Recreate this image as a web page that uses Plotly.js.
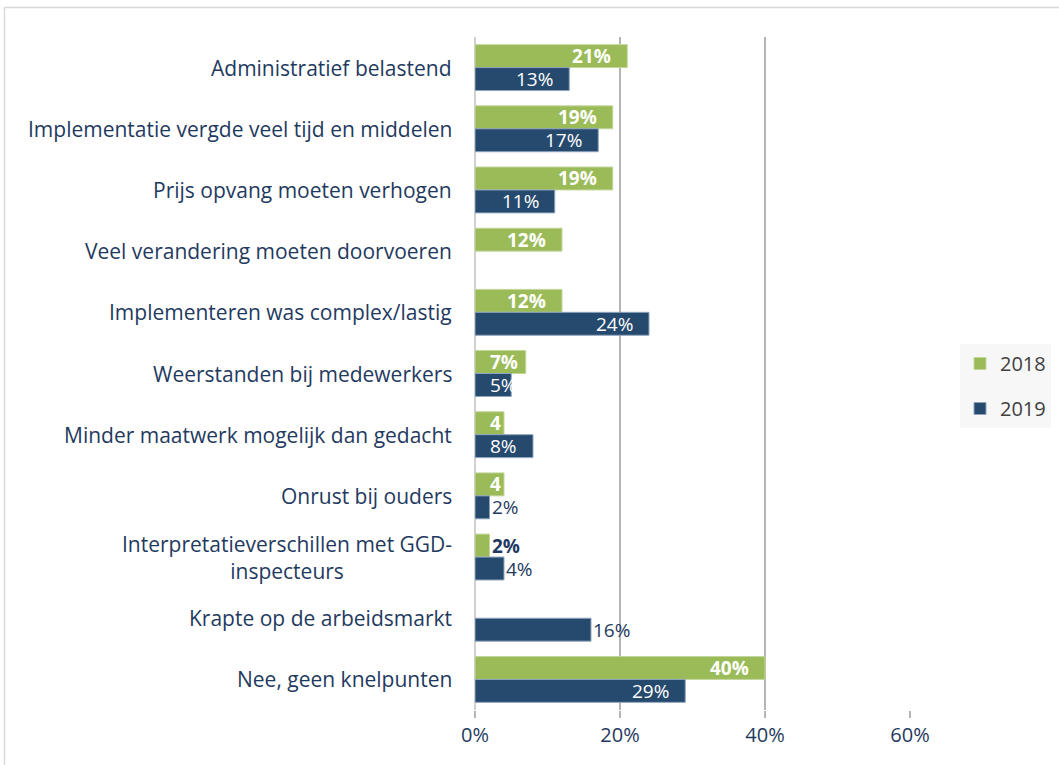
<!DOCTYPE html>
<html>
<head>
<meta charset="utf-8">
<script src="https://cdn.plot.ly/plotly-3.0.1.min.js"></script>
<style>
  html, body { margin: 0; padding: 0; background: #ffffff; }
  #chart { width: 1059px; height: 765px; }
</style>
</head>
<body>
<div id="chart"></div>
<script>
// ---- Data ----
var categories = [
  "Administratief belastend",
  "Implementatie vergde veel tijd en middelen",
  "Prijs opvang moeten verhogen",
  "Veel verandering moeten doorvoeren",
  "Implementeren was complex/lastig",
  "Weerstanden bij medewerkers",
  "Minder maatwerk mogelijk dan gedacht",
  "Onrust bij ouders",
  "Interpretatieverschillen met GGD-<br>inspecteurs",
  "Krapte op de arbeidsmarkt",
  "Nee, geen knelpunten"
];
var values2018 = [21, 19, 19, 12, 12, 7, 4, 4, 2, null, 40];
var values2019 = [13, 17, 11, null, 24, 5, 8, 2, 4, 16, 29];
var labels2018 = ["21%", "19%", "19%", "12%", "12%", "7%", "4", "4", "2%", "", "40%"];
var labels2019 = ["13%", "17%", "11%", "", "24%", "5%", "8%", "2%", "4%", "16%", "29%"];
// which labels sit outside the bar end (as in the reference)
var outside2018 = [false, false, false, false, false, false, false, false, true, false, false];
var outside2019 = [false, false, false, false, false, false, false, true, true, true, false];
var seriesNames = ["2018", "2019"];

// ---- Style ----
var GREEN = "#9bbb59", BLUE = "#264a6d";
var NAVY = "#1f3a60";
var FONT = "Open Sans, Noto Sans, sans-serif";
var L = 475, R = 149, T = 37, B = 55, W = 1059, H = 765;
var pw = W - L - R, ph = H - T - B;
function px2x(p) { return (p - L) / pw; }
function px2y(p) { return (H - B - p) / ph; }

var idx = categories.map(function (c, i) { return i; });

var traces = [
  {
    type: "bar", orientation: "h", name: seriesNames[0], legendgroup: "a",
    y: idx, x: values2018,
    marker: { color: GREEN, line: { color: "#c3d69b", width: 1 } },
    hoverinfo: "skip"
  },
  {
    type: "bar", orientation: "h", name: seriesNames[1], legendgroup: "b",
    y: idx, x: values2019,
    marker: { color: BLUE, line: { color: "#8ea4bd", width: 1 } },
    hoverinfo: "skip"
  }
];

var annotations = [];
// category labels
categories.forEach(function (c, i) {
  annotations.push({
    xref: "paper", yref: "y", x: 0, y: i, xshift: -21,
    xanchor: "right", yanchor: "middle", align: "center",
    text: c, showarrow: false,
    font: { family: FONT, size: 21, color: NAVY }
  });
});
// bar value labels
var off = 0.1875;
function addLabels(vals, labels, outside, dy, bold) {
  vals.forEach(function (v, i) {
    if (v === null || labels[i] === "") return;
    var a = {
      xref: "x", yref: "y", y: i + dy, showarrow: false, yanchor: "middle",
      borderpad: 0,
      text: bold ? "<b>" + labels[i] + "</b>" : labels[i],
      font: { family: FONT, size: 19, color: "#ffffff" }
    };
    if (outside[i]) {
      a.x = v; a.xanchor = "left"; a.xshift = 1;
      a.font.color = NAVY;
    } else if (v >= 10) {
      a.x = v; a.xanchor = "right"; a.xshift = -15;
    } else {
      a.x = 0; a.xanchor = "left"; a.xshift = 14;
    }
    annotations.push(a);
  });
}
addLabels(values2018, labels2018, outside2018, -off, true);
addLabels(values2019, labels2019, outside2019, off, false);

var layout = {
  width: W, height: H,
  margin: { l: L, r: R, t: T, b: B, pad: 0, autoexpand: false },
  paper_bgcolor: "#ffffff", plot_bgcolor: "#ffffff",
  barmode: "group", bargap: 0.25, bargroupgap: 0,
  showlegend: true,
  legend: {
    x: px2x(960), y: px2y(344), xanchor: "left", yanchor: "top",
    bgcolor: "#f7f7f7", borderwidth: 0,
    font: { family: FONT, size: 20, color: "#404040" },
    tracegroupgap: 16, traceorder: "grouped",
    itemwidth: 30
  },
  xaxis: {
    range: [0, 60], dtick: 20, ticksuffix: "%",
    showgrid: true, gridcolor: "#b4b4b4", gridwidth: 1.5,
    zeroline: true, zerolinecolor: "#d0d0d0", zerolinewidth: 2,
    showline: false,
    ticks: "outside", ticklen: 7, tickcolor: "#b4b4b4", tickwidth: 1.5,
    tickfont: { family: FONT, size: 20, color: NAVY },
    fixedrange: true
  },
  yaxis: {
    type: "linear", range: [categories.length - 0.5, -0.5],
    showticklabels: false, showgrid: false, zeroline: false, ticks: "",
    fixedrange: true
  },
  annotations: annotations,
  shapes: [{
    type: "rect", xref: "paper", yref: "paper",
    x0: px2x(4.5), x1: px2x(1070), y0: px2y(7.5), y1: px2y(780),
    line: { color: "#d9d9d9", width: 1.5 }, fillcolor: "rgba(0,0,0,0)", layer: "below"
  }],
  font: { family: FONT }
};

Plotly.newPlot("chart", traces, layout, { displayModeBar: false, staticPlot: true });
</script>
</body>
</html>
